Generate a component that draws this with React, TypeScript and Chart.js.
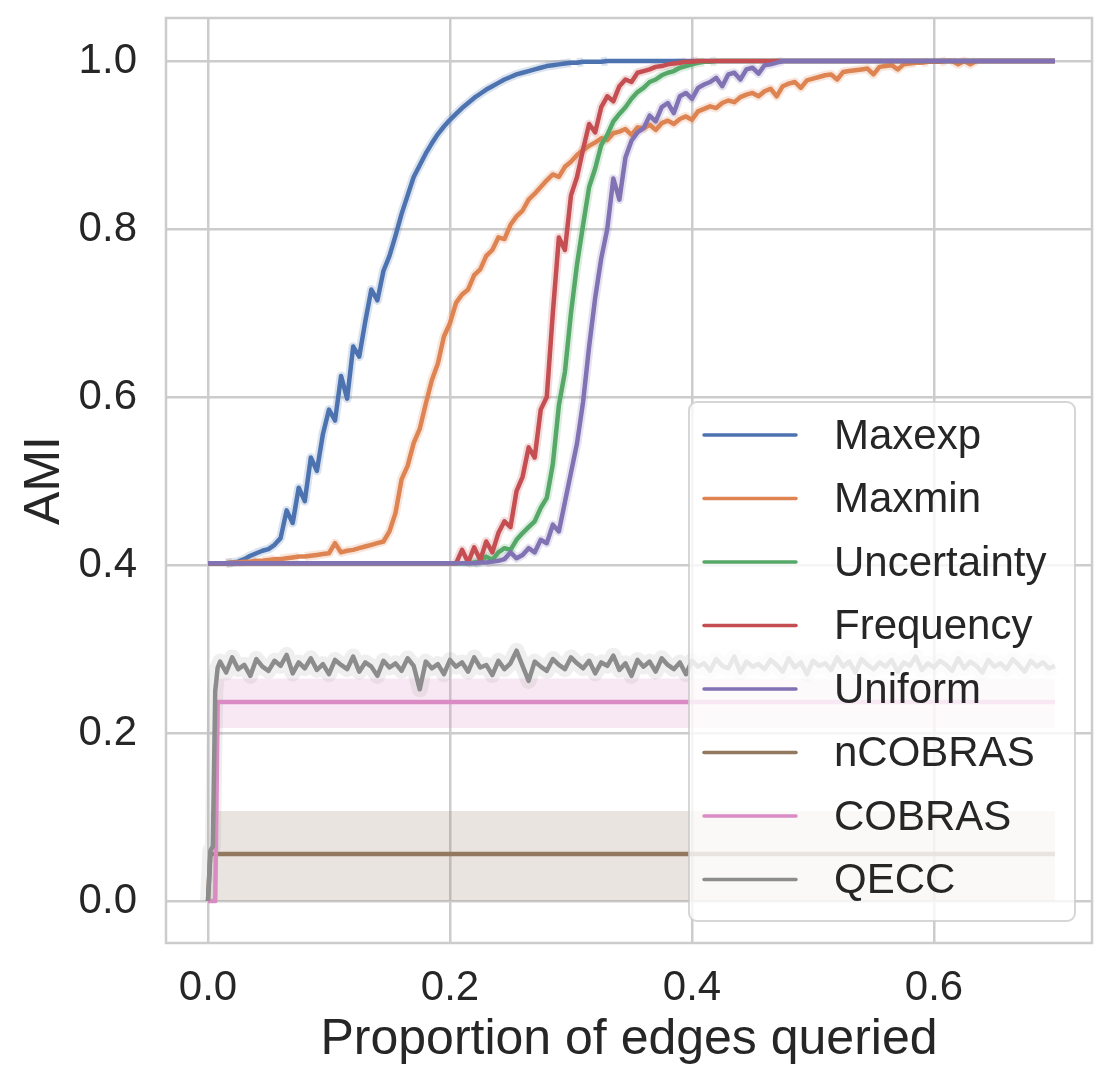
import React, { useEffect, useRef } from 'react';
import { Chart, registerables } from 'chart.js';

Chart.register(...registerables);

// x positions: a few fine steps near zero, then every 0.005 up to 0.7
const earlyX = [0, 0.002, 0.004, 0.006, 0.008];
const proportion = [
  ...earlyX,
  ...Array.from({ length: 139 }, (_, i) => Number((0.01 + i * 0.005).toFixed(3))),
];

const xTicks = [0, 0.2, 0.4, 0.6];
const yTicks = [0, 0.2, 0.4, 0.6, 0.8, 1.0];

const labels = ['Maxexp', 'Maxmin', 'Uncertainty', 'Frequency', 'Uniform', 'nCOBRAS', 'COBRAS', 'QECC'];
const colors = ['#4c72b0', '#dd8452', '#55a868', '#c44e52', '#8172b3', '#937860', '#da8bc3', '#8c8c8c'];

const maxexp = [
  0.402, 0.402, 0.402, 0.402, 0.402,
  0.402, 0.402, 0.403, 0.404, 0.407, 0.411, 0.414, 0.417, 0.419, 0.424,
  0.432, 0.465, 0.450, 0.492, 0.476, 0.528, 0.512, 0.556, 0.585, 0.572,
  0.625, 0.598, 0.660, 0.648, 0.690, 0.728, 0.715, 0.750, 0.768, 0.792,
  0.818, 0.840, 0.862, 0.876, 0.890, 0.902, 0.913, 0.922, 0.930, 0.937,
  0.944, 0.950, 0.956, 0.961, 0.966, 0.970, 0.974, 0.978, 0.981, 0.984,
  0.986, 0.988, 0.990, 0.992, 0.994, 0.995, 0.996, 0.997, 0.998, 0.998,
  0.999, 0.999, 0.999, 0.999, 1, 1, 1, 1, 1, 1,
  ...Array(69).fill(1),
];

const maxmin = [
  0.402, 0.402, 0.402, 0.402, 0.402,
  0.402, 0.402, 0.403, 0.403, 0.404, 0.404, 0.405, 0.405, 0.406, 0.407,
  0.407, 0.408, 0.409, 0.410, 0.410, 0.411, 0.412, 0.413, 0.414, 0.426,
  0.415, 0.417, 0.418, 0.420, 0.422, 0.424, 0.426, 0.428, 0.440, 0.462,
  0.502, 0.518, 0.545, 0.562, 0.592, 0.620, 0.640, 0.672, 0.688, 0.712,
  0.722, 0.728, 0.745, 0.752, 0.768, 0.775, 0.790, 0.788, 0.805, 0.815,
  0.822, 0.835, 0.842, 0.850, 0.858, 0.865, 0.862, 0.874, 0.880, 0.888,
  0.894, 0.899, 0.903, 0.908, 0.906, 0.914, 0.916, 0.919, 0.912, 0.921,
  0.920, 0.924, 0.918, 0.926, 0.929, 0.925, 0.931, 0.934, 0.930, 0.940,
  0.943, 0.946, 0.944, 0.950, 0.953, 0.951, 0.957, 0.960, 0.962, 0.958,
  0.964, 0.967, 0.958, 0.970, 0.973, 0.975, 0.968, 0.977, 0.979, 0.981,
  0.983, 0.984, 0.978, 0.987, 0.988, 0.989, 0.990, 0.991, 0.984, 0.993,
  0.994, 0.995, 0.990, 0.996, 0.997, 0.998, 0.998, 0.999, 0.999, 0.999,
  1, 1, 0.996, 1, 0.996, 1, 1, 1, 1, 1,
  ...Array(9).fill(1),
];

const uncertainty = [
  ...Array(45).fill(0.402),
  0.402, 0.402, 0.403, 0.404, 0.410, 0.406, 0.415, 0.420, 0.418, 0.430,
  0.438, 0.445, 0.452, 0.468, 0.480, 0.520, 0.590, 0.630, 0.700, 0.758,
  0.805, 0.850, 0.872, 0.900, 0.912, 0.928, 0.937, 0.945, 0.955, 0.963,
  0.968, 0.975, 0.978, 0.983, 0.986, 0.988, 0.992, 0.994, 0.996, 0.998,
  0.999, 0.999, 1, 1, 1, 1, 1, 1, 1, 1,
  ...Array(49).fill(1),
];

const frequency = [
  ...Array(45).fill(0.402),
  0.418, 0.403, 0.421, 0.406, 0.428, 0.415, 0.438, 0.452, 0.445, 0.488,
  0.505, 0.540, 0.528, 0.585, 0.600, 0.700, 0.790, 0.775, 0.840, 0.862,
  0.895, 0.925, 0.915, 0.945, 0.958, 0.952, 0.970, 0.978, 0.975, 0.986,
  0.988, 0.990, 0.993, 0.994, 0.996, 0.997, 0.998, 0.999, 0.999, 1,
  ...Array(59).fill(1),
];

const uniform = [
  ...Array(45).fill(0.402),
  0.402, 0.402, 0.402, 0.403, 0.403, 0.404, 0.405, 0.407, 0.415, 0.408,
  0.412, 0.420, 0.415, 0.430, 0.426, 0.448, 0.440, 0.475, 0.510, 0.545,
  0.594, 0.660, 0.718, 0.765, 0.800, 0.860, 0.835, 0.885, 0.905, 0.915,
  0.920, 0.935, 0.928, 0.945, 0.950, 0.938, 0.958, 0.962, 0.955, 0.968,
  0.972, 0.975, 0.980, 0.970, 0.984, 0.986, 0.978, 0.990, 0.992, 0.985,
  0.995, 0.996, 0.998, 1, 1, 1, 1, 1, 1, 1,
  ...Array(39).fill(1),
];

const ncobras = [0, ...Array(143).fill(0.056)];
const ncobrasHigh = [null, ...Array(143).fill(0.107)];

const cobras = [0, 0, 0, 0, ...Array(140).fill(0.237)];
const cobrasHigh = [null, null, null, null, ...Array(140).fill(0.265)];
const cobrasLow = [null, null, null, null, ...Array(140).fill(0.206)];

const qecc = [
  0, 0.06, 0.065, 0.25, 0.278,
  0.285, 0.272, 0.290, 0.276, 0.281, 0.268, 0.288, 0.279, 0.274, 0.286,
  0.280, 0.293, 0.271, 0.284, 0.277, 0.289, 0.275, 0.282, 0.270, 0.287,
  0.281, 0.276, 0.291, 0.273, 0.284, 0.279, 0.268, 0.286, 0.278, 0.283,
  0.274, 0.289, 0.280, 0.252, 0.285, 0.277, 0.282, 0.270, 0.287, 0.279,
  0.284, 0.273, 0.290, 0.278, 0.281, 0.269, 0.286, 0.276, 0.283, 0.298,
  0.280, 0.262, 0.285, 0.279, 0.274, 0.288, 0.281, 0.276, 0.290, 0.283,
  0.277, 0.286, 0.271, 0.284, 0.280, 0.292, 0.275, 0.283, 0.268, 0.287,
  0.279, 0.285, 0.273, 0.289, 0.281, 0.276, 0.284, 0.270, 0.286, 0.279,
  0.283, 0.274, 0.288, 0.280, 0.277, 0.291, 0.272, 0.285, 0.279, 0.282,
  0.276, 0.287, 0.281, 0.273, 0.289, 0.278, 0.284, 0.270, 0.286, 0.280,
  0.283, 0.275, 0.290, 0.279, 0.285, 0.272, 0.288, 0.281, 0.276, 0.284,
  0.279, 0.287, 0.273, 0.284, 0.280, 0.291, 0.275, 0.283, 0.278, 0.286,
  0.281, 0.274, 0.289, 0.277, 0.285, 0.280, 0.272, 0.287, 0.279, 0.283,
  0.276, 0.288, 0.281, 0.273, 0.286, 0.279, 0.284, 0.277, 0.280,
];

const series = [maxexp, maxmin, uncertainty, frequency, uniform, ncobras, cobras, qecc];

const FONT = "'Liberation Sans', Arial, sans-serif";
const TEXT = '#262626';
const GRID = '#cccccc';

const toPoints = (ys: (number | null)[]) => ys.map((y, i) => ({ x: proportion[i], y }));

const rgba = (hex: string, a: number) => {
  const n = parseInt(hex.slice(1), 16);
  return `rgba(${(n >> 16) & 255}, ${(n >> 8) & 255}, ${n & 255}, ${a})`;
};

// pale halo standing in for seaborn's confidence band on the noisy curves
const haloDataset = (ys: number[], color: string, width: number, alpha: number) => ({
  label: '',
  data: toPoints(ys),
  borderColor: rgba(color, alpha),
  borderWidth: width,
  borderJoinStyle: 'round',
  pointRadius: 0,
  fill: false,
  order: 30,
  segment: {
    borderColor: (c: any) => (c.p0.parsed.y === c.p1.parsed.y ? 'rgba(0,0,0,0)' : rgba(color, alpha)),
  },
});

const framePlugin = {
  id: 'frameAndLegend',
  beforeDatasetsDraw(chart: any) {
    const { ctx, chartArea: a } = chart;
    ctx.save();
    ctx.strokeStyle = GRID;
    ctx.lineWidth = 2.5;
    ctx.strokeRect(a.left, a.top, a.right - a.left, a.bottom - a.top);
    ctx.restore();
  },
  afterDatasetsDraw(chart: any) {
    const { ctx, chartArea: a } = chart;
    const w = 386;
    const h = 519;
    const left = a.right - 17 - w;
    const top = a.bottom - 22 - h;
    ctx.save();
    ctx.beginPath();
    ctx.roundRect(left, top, w, h, 8);
    ctx.fillStyle = 'rgba(255,255,255,0.8)';
    ctx.fill();
    ctx.strokeStyle = 'rgba(204,204,204,0.8)';
    ctx.lineWidth = 2;
    ctx.stroke();
    ctx.font = `42px ${FONT}`;
    ctx.textBaseline = 'middle';
    ctx.textAlign = 'left';
    labels.forEach((label, i) => {
      const y = top + 33 + i * 63.5;
      ctx.beginPath();
      ctx.moveTo(left + 15, y);
      ctx.lineTo(left + 107, y);
      ctx.strokeStyle = colors[i];
      ctx.lineWidth = 3.5;
      ctx.lineCap = 'round';
      ctx.stroke();
      ctx.fillStyle = TEXT;
      ctx.fillText(label, left + 145, y + 2);
    });
    ctx.restore();
  },
};

export default function App() {
  const canvasRef = useRef<HTMLCanvasElement>(null);

  useEffect(() => {
    document.body.style.margin = '0';
    if (!canvasRef.current) return;

    const datasets: any[] = [];

    // shaded bands for nCOBRAS and COBRAS
    datasets.push({
      label: '',
      data: toPoints(ncobrasHigh),
      borderWidth: 0,
      pointRadius: 0,
      backgroundColor: rgba(colors[5], 0.2),
      fill: 'origin',
      order: 40,
    });
    datasets.push({
      label: '',
      data: toPoints(cobrasHigh),
      borderWidth: 0,
      pointRadius: 0,
      backgroundColor: rgba(colors[6], 0.2),
      fill: '+1',
      order: 40,
    });
    datasets.push({
      label: '',
      data: toPoints(cobrasLow),
      borderWidth: 0,
      pointRadius: 0,
      fill: false,
      order: 40,
    });

    [0, 1, 2, 3, 4].forEach((i) => datasets.push(haloDataset(series[i], colors[i], 9, 0.2)));
    datasets.push(haloDataset(qecc, colors[7], 16, 0.14));

    series.forEach((ys, i) => {
      datasets.push({
        label: labels[i],
        data: toPoints(ys),
        borderColor: colors[i],
        borderWidth: 4.5,
        borderJoinStyle: 'round',
        pointRadius: 0,
        tension: 0,
        fill: false,
        order: 10 - i,
      });
    });

    const config: any = {
      type: 'line',
      data: { datasets },
      options: {
        animation: false,
        responsive: false,
        events: [],
        layout: { padding: { top: 18, right: 23, left: 0, bottom: 0 } },
        plugins: {
          legend: { display: false },
          tooltip: { enabled: false },
        },
        scales: {
          x: {
            type: 'linear',
            min: -0.0347,
            max: 0.7306,
            afterBuildTicks: (s: any) => {
              s.ticks = xTicks.map((v) => ({ value: v }));
            },
            afterFit: (s: any) => {
              s.height = 146;
              s.paddingLeft = 0;
              s.paddingRight = 0;
            },
            grid: { color: GRID, lineWidth: 2.5, drawTicks: false },
            border: { display: false },
            ticks: {
              padding: 20,
              color: TEXT,
              font: { family: FONT, size: 42 },
              maxRotation: 0,
              autoSkip: false,
              callback: (v: any) => Number(v).toFixed(1),
            },
            title: {
              display: true,
              text: 'Proportion of edges queried',
              color: TEXT,
              font: { family: FONT, size: 50 },
              padding: { top: 0, bottom: 19 },
            },
          },
          y: {
            type: 'linear',
            min: -0.05,
            max: 1.0512,
            afterBuildTicks: (s: any) => {
              s.ticks = yTicks.map((v) => ({ value: v }));
            },
            afterFit: (s: any) => {
              s.width = 166;
              s.paddingTop = 0;
              s.paddingBottom = 0;
            },
            grid: { color: GRID, lineWidth: 2.5, drawTicks: false },
            border: { display: false },
            ticks: {
              padding: 29,
              color: TEXT,
              font: { family: FONT, size: 42 },
              callback: (v: any) => Number(v).toFixed(1),
            },
            title: {
              display: true,
              text: 'AMI',
              color: TEXT,
              font: { family: FONT, size: 50 },
              padding: { top: 15, bottom: 0 },
            },
          },
        },
      },
      plugins: [framePlugin],
    };

    const chart = new Chart(canvasRef.current, config);
    return () => {
      chart.destroy();
    };
  }, []);

  return (
    <div style={{ width: 1115, height: 1089, background: '#fff' }}>
      <canvas ref={canvasRef} width={1115} height={1089} style={{ width: 1115, height: 1089 }} />
    </div>
  );
}
